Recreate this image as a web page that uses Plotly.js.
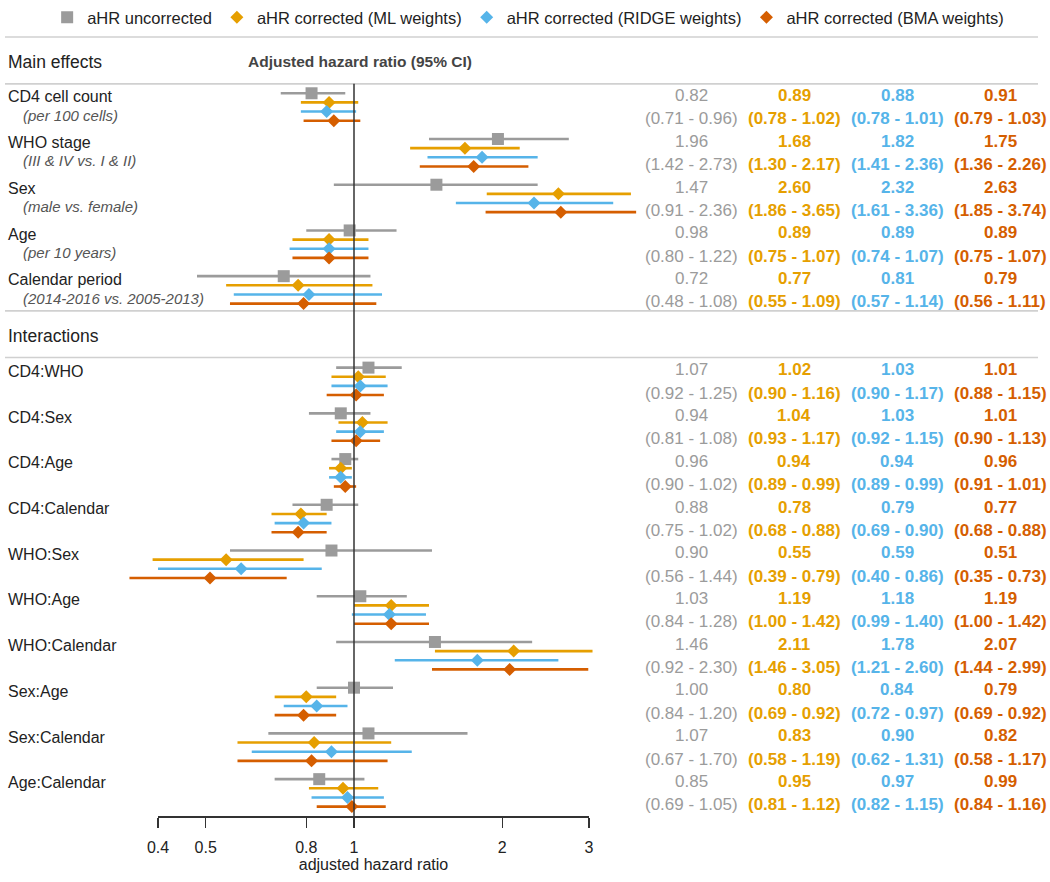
<!DOCTYPE html>
<html><head><meta charset="utf-8">
<script src="https://cdn.plot.ly/plotly-3.0.1.min.js"></script>
<style>html,body{margin:0;padding:0;background:#fff}#chart{width:1050px;height:882px}</style>
</head><body><div id="chart"></div>
<script>
// ---------------- data ----------------
const mainLabels = ["CD4 cell count", "WHO stage", "Sex", "Age", "Calendar period"];
const mainSublabels = ["(per 100 cells)", "(III & IV vs. I & II)", "(male vs. female)", "(per 10 years)", "(2014-2016 vs. 2005-2013)"];
const interactionLabels = ["CD4:WHO", "CD4:Sex", "CD4:Age", "CD4:Calendar", "WHO:Sex", "WHO:Age", "WHO:Calendar", "Sex:Age", "Sex:Calendar", "Age:Calendar"];
const seriesNames = ["aHR uncorrected", "aHR corrected (ML weights)", "aHR corrected (RIDGE weights)", "aHR corrected (BMA weights)"];
const seriesColors = ["#9B9B9B", "#E69F00", "#56B4E9", "#D55E00"];
const sectionHeaders = ["Main effects", "Interactions"];
const columnHeader = "Adjusted hazard ratio (95% CI)";
const axisTitle = "adjusted hazard ratio";
const tickValues = [0.4, 0.5, 0.8, 1, 2, 3];

// order: 5 main effects then 10 interactions
const uncEst = [0.82, 1.96, 1.47, 0.98, 0.72, 1.07, 0.94, 0.96, 0.88, 0.90, 1.03, 1.46, 1.00, 1.07, 0.85];
const uncLo  = [0.71, 1.42, 0.91, 0.80, 0.48, 0.92, 0.81, 0.90, 0.75, 0.56, 0.84, 0.92, 0.84, 0.67, 0.69];
const uncHi  = [0.96, 2.73, 2.36, 1.22, 1.08, 1.25, 1.08, 1.02, 1.02, 1.44, 1.28, 2.30, 1.20, 1.70, 1.05];

const mlEst = [0.89, 1.68, 2.60, 0.89, 0.77, 1.02, 1.04, 0.94, 0.78, 0.55, 1.19, 2.11, 0.80, 0.83, 0.95];
const mlLo  = [0.78, 1.30, 1.86, 0.75, 0.55, 0.90, 0.93, 0.89, 0.68, 0.39, 1.00, 1.46, 0.69, 0.58, 0.81];
const mlHi  = [1.02, 2.17, 3.65, 1.07, 1.09, 1.16, 1.17, 0.99, 0.88, 0.79, 1.42, 3.05, 0.92, 1.19, 1.12];

const ridgeEst = [0.88, 1.82, 2.32, 0.89, 0.81, 1.03, 1.03, 0.94, 0.79, 0.59, 1.18, 1.78, 0.84, 0.90, 0.97];
const ridgeLo  = [0.78, 1.41, 1.61, 0.74, 0.57, 0.90, 0.92, 0.89, 0.69, 0.40, 0.99, 1.21, 0.72, 0.62, 0.82];
const ridgeHi  = [1.01, 2.36, 3.36, 1.07, 1.14, 1.17, 1.15, 0.99, 0.90, 0.86, 1.40, 2.60, 0.97, 1.31, 1.15];

const bmaEst = [0.91, 1.75, 2.63, 0.89, 0.79, 1.01, 1.01, 0.96, 0.77, 0.51, 1.19, 2.07, 0.79, 0.82, 0.99];
const bmaLo  = [0.79, 1.36, 1.85, 0.75, 0.56, 0.88, 0.90, 0.91, 0.68, 0.35, 1.00, 1.44, 0.69, 0.58, 0.84];
const bmaHi  = [1.03, 2.26, 3.74, 1.07, 1.11, 1.15, 1.13, 1.01, 0.88, 0.73, 1.42, 2.99, 0.92, 1.17, 1.16];

// ---------------- layout geometry ----------------
const W = 1050, H = 882;
const FONT = "Liberation Sans, Arial, Helvetica, sans-serif";
const PX_ONE = 354, PX_DEC = 492.5;           // x pixel of HR=1, pixels per decade
const TOP_PX = 30, AXIS_PX = 816;             // plot area top / bottom
const ROW0_PX = 90.5, UNIT_PX = 9.18;         // first row pixel, pixels per sub-row
const yTop = (TOP_PX - ROW0_PX) / UNIT_PX;
const yBottom = (AXIS_PX - ROW0_PX) / UNIT_PX;
const pxX = v => PX_ONE + Math.log10(v) * PX_DEC;

const series = [
  {est: uncEst, lo: uncLo, hi: uncHi},
  {est: mlEst, lo: mlLo, hi: mlHi},
  {est: ridgeEst, lo: ridgeLo, hi: ridgeHi},
  {est: bmaEst, lo: bmaLo, hi: bmaHi}
];
const nMain = mainLabels.length;
const allLabels = mainLabels.concat(interactionLabels);
const base = allLabels.map((_, i) => i < nMain ? 5 * i : 30 + 5 * (i - nMain));

const traces = series.map((s, k) => ({
  type: "scatter", mode: "markers", name: seriesNames[k],
  x: s.est, y: base.map(b => b + k),
  marker: {symbol: k === 0 ? "square" : "diamond", size: k === 0 ? 12 : 10, color: seriesColors[k]},
  error_x: {type: "data", symmetric: false,
    array: s.hi.map((h, i) => h - s.est[i]),
    arrayminus: s.lo.map((l, i) => s.est[i] - l),
    color: seriesColors[k], thickness: 2.6, width: 0},
  hoverinfo: "x+name"
}));
// empty trace so that the displayed hazard-ratio axis (x2) gets drawn
traces.push({type: "scatter", mode: "markers", x: [], y: [], xaxis: "x2", yaxis: "y",
  showlegend: false, hoverinfo: "skip"});

const annotations = [];
const colX = [692, 794, 897, 1000];
allLabels.forEach((lab, i) => {
  annotations.push({xref: "paper", yref: "y", x: 6 / W, y: base[i] + 0.4, text: lab, showarrow: false,
    xanchor: "left", yanchor: "middle", font: {family: FONT, size: 16, color: "#222"}});
  if (i < nMain) {
    annotations.push({xref: "paper", yref: "y", x: 21 / W, y: base[i] + 2.4, text: "<i>" + mainSublabels[i] + "</i>",
      showarrow: false, xanchor: "left", yanchor: "middle", font: {family: FONT, size: 15, color: "#555"}});
  }
  series.forEach((s, k) => {
    const open = k === 0 ? "" : "<b>", close = k === 0 ? "" : "</b>";
    annotations.push({xref: "paper", yref: "y", x: colX[k] / W, y: base[i] + 0.25,
      text: open + s.est[i].toFixed(2) + close, showarrow: false, xanchor: "center", yanchor: "middle",
      font: {family: FONT, size: 17, color: seriesColors[k]}});
    annotations.push({xref: "paper", yref: "y", x: colX[k] / W, y: base[i] + 2.8,
      text: open + "(" + s.lo[i].toFixed(2) + " - " + s.hi[i].toFixed(2) + ")" + close, showarrow: false,
      xanchor: "center", yanchor: "middle", font: {family: FONT, size: 17, color: seriesColors[k]}});
  });
});
annotations.push({xref: "paper", yref: "y", x: 6 / W, y: -3.42, text: sectionHeaders[0], showarrow: false,
  xanchor: "left", yanchor: "middle", font: {family: FONT, size: 17.5, color: "#222"}});
annotations.push({xref: "paper", yref: "y", x: 6 / W, y: 26.5, text: sectionHeaders[1], showarrow: false,
  xanchor: "left", yanchor: "middle", font: {family: FONT, size: 17.5, color: "#222"}});
annotations.push({xref: "paper", yref: "y", x: 360 / W, y: -3.42, text: "<b>" + columnHeader + "</b>", showarrow: false,
  xanchor: "center", yanchor: "middle", font: {family: FONT, size: 15.5, color: "#444"}});

const sepUnits = [-6.16, -1.03, 23.8, 28.9];
const shapes = sepUnits.map(u => ({type: "line", xref: "paper", yref: "y", x0: 5 / W, x1: 1038 / W, y0: u, y1: u,
  line: {color: "#d0d0d0", width: 1.6}}));
shapes.push({type: "line", xref: "x", yref: "y", x0: 1, x1: 1, y0: -1.03, y1: yBottom, line: {color: "#333", width: 1.5}});

const layout = {
  width: W, height: H,
  margin: {l: 0, r: 0, t: TOP_PX, b: H - AXIS_PX},
  paper_bgcolor: "#fff", plot_bgcolor: "rgba(0,0,0,0)",
  font: {family: FONT, color: "#222"},
  showlegend: true,
  legend: {orientation: "h", x: 0.503, xanchor: "center", y: (AXIS_PX - 14) / (AXIS_PX - TOP_PX), yanchor: "middle",
    itemwidth: 30, font: {family: FONT, size: 16.5, color: "#222"}, bgcolor: "rgba(0,0,0,0)"},
  xaxis: {type: "log", visible: false, domain: [0, 1], range: [-PX_ONE / PX_DEC, (W - PX_ONE) / PX_DEC], fixedrange: true},
  xaxis2: {type: "log", anchor: "y", domain: [pxX(0.4) / W, pxX(3) / W], range: [Math.log10(0.4), Math.log10(3)],
    showline: true, linecolor: "#333", linewidth: 1.5, showgrid: false, zeroline: false,
    ticks: "outside", ticklen: 10, tickwidth: 1.5, tickcolor: "#333", tickangle: 0,
    tickmode: "array", tickvals: tickValues, ticktext: tickValues.map(String), ticklabelstandoff: 6,
    tickfont: {family: FONT, size: 16, color: "#222"}, automargin: false, fixedrange: true,
    title: {text: axisTitle, font: {family: FONT, size: 16, color: "#222"}, standoff: 4}},
  yaxis: {visible: false, domain: [0, 1], range: [yBottom, yTop], fixedrange: true},
  annotations: annotations,
  shapes: shapes
};

Plotly.newPlot("chart", traces, layout, {displayModeBar: false, staticPlot: true});
</script>
</body></html>
